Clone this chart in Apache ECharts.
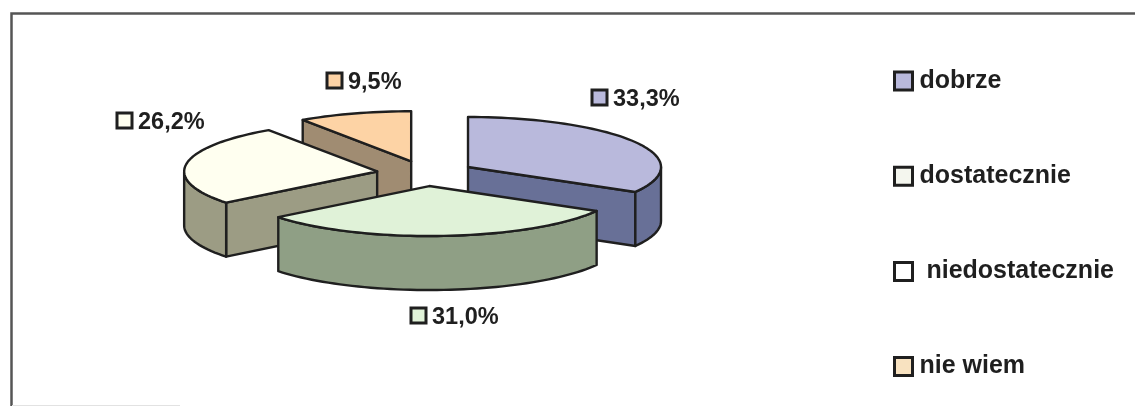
<!DOCTYPE html>
<html><head><meta charset="utf-8">
<style>html,body{margin:0;padding:0;background:#fff}#c{width:1135px;height:407px}</style>
<script src="https://cdn.jsdelivr.net/npm/echarts@6/dist/echarts.min.js"></script>
</head><body><div id="c"></div>
<script>
const categories = ['dobrze', 'dostatecznie', 'niedostatecznie', 'nie wiem'];
const values = [33.3, 31.0, 26.2, 9.5];
const topColors = ['#b9b9dc', '#e0f2d8', '#fffff0', '#fdd3a5'];
const wallColors = ['#687097', '#8f9f85', '#9c9c84', '#a08c72'];
const legendColors = ['#b9b9dc', '#f4f6ee', '#ffffff', '#f8e2c0'];
const labelMarkerX = [591, 410, 116, 326];
const labelMarkerY = [89, 307, 112, 72];

const CX = 425.6, CY = 173.4, RX = 193, RY = 50, DEPTH = 54, EXPLODE = 49;
const INK = '#1f1f1f';
const total = values.reduce((a, b) => a + b, 0);
const rad = d => d * Math.PI / 180;
let acc = 0;
const spans = values.map(v => { const a = acc; acc += v / total * 360; return [a, acc]; });

function arcPts(ox, oy, a1, a2, dy) {
  const n = Math.max(2, Math.ceil(Math.abs(a2 - a1) / 2)), pts = [];
  for (let i = 0; i <= n; i++) {
    const a = rad(a1 + (a2 - a1) * i / n);
    pts.push([ox + RX * Math.sin(a), oy - RY * Math.cos(a) + (dy || 0)]);
  }
  return pts;
}
function poly(points, fill) {
  return { type: 'polygon', shape: { points }, style: { fill, stroke: INK, lineWidth: 2.4, lineJoin: 'round' } };
}
function sliceItem(i) {
  return function () {
    const [a1, a2] = spans[i], mid = rad((a1 + a2) / 2);
    const ox = CX + EXPLODE * Math.sin(mid), oy = CY - EXPLODE * Math.cos(mid) * RY / RX;
    const kids = [];
    const radial = a => {
      const p = arcPts(ox, oy, a, a, 0)[0];
      kids.push(poly([[ox, oy], p, [p[0], p[1] + DEPTH], [ox, oy + DEPTH]], wallColors[i]));
    };
    if (Math.cos(rad(a1 - 90)) < -0.001) radial(a1);
    if (Math.cos(rad(a2 + 90)) < -0.001) radial(a2);
    const f1 = Math.max(a1, 90), f2 = Math.min(a2, 270);
    if (f2 > f1) {
      const t = arcPts(ox, oy, f1, f2, 0), b = arcPts(ox, oy, f2, f1, DEPTH);
      kids.push(poly(t.concat(b), wallColors[i]));
    }
    kids.push(poly([[ox, oy]].concat(arcPts(ox, oy, a1, a2, 0)), topColors[i]));
    const mx = labelMarkerX[i], my = labelMarkerY[i];
    kids.push({ type: 'rect', shape: { x: mx + 1, y: my + 1, width: 15, height: 15 },
      style: { fill: topColors[i], stroke: INK, lineWidth: 3 } });
    kids.push({ type: 'text', x: mx + 22, y: my + 11, style: {
      text: values[i].toFixed(1).replace('.', ',') + '%', fill: INK,
      font: 'bold 23.5px "Liberation Sans", Arial, sans-serif', textVerticalAlign: 'middle', textAlign: 'left' } });
    return { type: 'group', children: kids };
  };
}
const depthOrder = values.map((_, i) => i).sort((p, q) =>
  Math.cos(rad((spans[q][0] + spans[q][1]) / 2)) - Math.cos(rad((spans[p][0] + spans[p][1]) / 2)));

const chart = echarts.init(document.getElementById('c'), null, { renderer: 'canvas' });
chart.setOption({
  animation: false,
  backgroundColor: '#fff',
  legend: {
    orient: 'vertical', left: 893, top: 68.5, padding: 0, itemWidth: 18, itemHeight: 18, itemGap: 70.2, icon: 'rect',
    selectedMode: false,
    formatter: n => (n === 'niedostatecznie' ? ' ' : '') + n,
    textStyle: { color: INK, fontWeight: 'bold', fontSize: 25, lineHeight: 24, padding: [0, 0, 0, 2],
      fontFamily: '"Liberation Sans", Arial, sans-serif' },
    data: categories.map((name, i) => ({ name, icon: 'rect',
      itemStyle: { color: legendColors[i], borderColor: INK, borderWidth: 3 } }))
  },
  graphic: [
    { type: 'polyline', shape: { points: [[11.5, 406], [11.5, 13.5], [1135, 13.5]] }, style: { fill: null, stroke: '#555', lineWidth: 2.5 } },
    { type: 'line', shape: { x1: 12, y1: 405.5, x2: 180, y2: 405.5 }, style: { stroke: '#e2e2e2', lineWidth: 1 } }
  ],
  series: categories.map((name, i) => ({
    type: 'custom', name, coordinateSystem: 'none', silent: true,
    z: 2 + depthOrder.indexOf(i),
    itemStyle: { color: topColors[i] },
    data: [values[i]],
    renderItem: sliceItem(i)
  }))
});
</script></body></html>
